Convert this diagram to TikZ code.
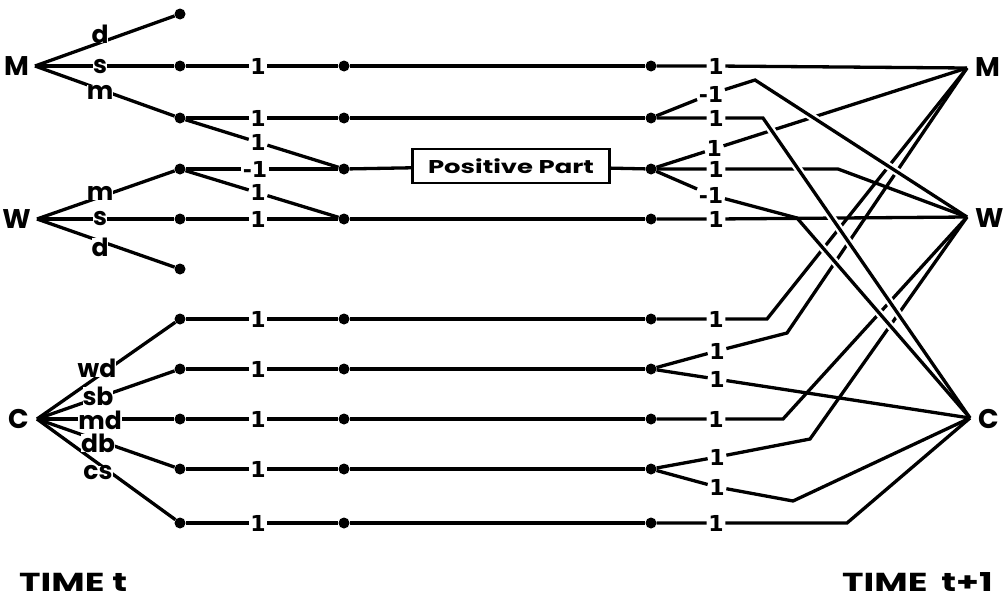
\documentclass[tikz,border=0pt]{standalone}
\usepackage{fontspec}
\setmainfont{Poppins}
\newfontfamily\widefont[FakeStretch=1.4]{Poppins}
\newfontfamily\numfont{DejaVu Sans}
\usetikzlibrary{calc}
\begin{document}
\begin{tikzpicture}[x=1pt,y=-1pt,
  ln/.style={line width=3.3pt},
  cutter/.style={draw=white,line width=8pt},
  dot/.style={circle,fill,inner sep=0pt,minimum size=11pt},
  lab/.style={font=\bfseries\fontsize{25}{25}\selectfont,inner sep=0pt,fill=white},
  big/.style={font=\bfseries\fontsize{27}{27}\selectfont,inner sep=0pt},
  one/.style={font=\numfont\bfseries\fontsize{22}{22}\selectfont,inner sep=1.5pt},
  boxed/.style={draw,line width=2.4pt,font=\widefont\bfseries\fontsize{18.5}{18.5}\selectfont,minimum width=197pt,minimum height=34pt,inner sep=0pt},
  timel/.style={font=\widefont\bfseries\fontsize{26}{26}\selectfont,inner sep=0pt}]
\useasboundingbox (0,0) rectangle (1003,605);

% ---- left source letters
\node[big,anchor=east] (ML) at (29,66) {M};
\node[big,anchor=east] (WL) at (31,219) {W};
\node[big,anchor=east] (CL) at (29,419) {C};
\coordinate (Mb) at (35,66);
\coordinate (Wb) at (37,219);
\coordinate (Cb) at (37,419);

% ---- dots
\node[dot] (a0) at (180,14) {};
\node[dot] (aw) at (180,269) {};
\foreach \y/\n in {66/1,118/2,169/3,219/4,319/5,369/6,419/7,469/8,523/9}{
  \node[dot] (a\n) at (180,\y) {};
  \node[dot] (c\n) at (344,\y) {};
  \node[dot] (d\n) at (651,\y) {};
}

% ---- left fans
\draw[ln] (Mb) -- (a0);
\draw[ln] (Mb) -- (a1);
\draw[ln] (Mb) -- (a2);
\draw[ln] (Wb) -- (a3);
\draw[ln] (Wb) -- (a4);
\draw[ln] (Wb) -- (aw);
\draw[ln] (Cb) -- (a5);
\draw[ln] (Cb) -- (a6);
\draw[ln] (Cb) -- (a7);
\draw[ln] (Cb) -- (a8);
\draw[ln] (Cb) -- (a9);

\node[lab] (Md) at (100,34) {d};
\node[lab] (Ms) at (100,67) {s};
\node[lab] (Mm) at (100,92) {m};
\node[lab] (Wm) at (100,193) {m};
\node[lab] (Ws) at (100,219) {s};
\node[lab] (Wd) at (100,247) {d};
\node[lab] (Cwd) at (97,368) {wd};
\node[lab] (Csb) at (98,396) {sb};
\node[lab] (Cmd) at (100,420) {md};
\node[lab] (Cdb) at (98,443) {db};
\node[lab] (Ccs) at (98,473) {cs};

% ---- second column labels
\foreach \y/\n in {66/1,118/2,219/4,319/5,369/6,419/7,469/8,523/9}{
  \node[one] (b\n) at (258,\y) {1};
  \draw[ln] (a\n) -- (b\n) -- (c\n);
}
\node[one] (b3) at (255,169) {-1};
\draw[ln] (a3) -- (b3) -- (c3);
\node[one] (bx) at ($(a2)!0.476!(c3)$) {1};
\node[one] (by) at ($(a3)!0.476!(c4)$) {1};
\draw[ln] (a2) -- (bx) -- (c3);
\draw[ln] (a3) -- (by) -- (c4);

% ---- middle
\node[boxed] (pp) at (511,166) {Positive Part};
\foreach \n in {1,2,4,5,6,7,8,9}{ \draw[ln] (c\n) -- (d\n); }
\draw[ln] (c3) -- (pp) -- (d3);

% ---- right target letters
\coordinate (Mr) at (967,68);
\coordinate (Wr) at (967,217);
\coordinate (Cr) at (970,418);
\node[big,anchor=west] (MR) at (975,67) {M};
\node[big,anchor=west] (WR) at (975,218) {W};
\node[big,anchor=west] (CR) at (978,419) {C};

% ---- right labels and bends
\node[one] (e1) at (716,66) {1};
\node[one] (e2u) at (711,94) {-1};
\node[one] (e2) at (716,118) {1};
\node[one] (e3u) at ($(d3)!0.2!(Mr)$) {1};
\node[one] (e3) at (716,169) {1};
\node[one] (e3d) at (711,195) {-1};
\node[one] (e4) at (716,219) {1};
\node[one] (e5) at (716,319) {1};
\node[one] (e6u) at (717,351) {1};
\node[one] (e6d) at ($(d6)!0.207!(Cr)$) {1};
\node[one] (e7) at (716,419) {1};
\node[one] (e8u) at (717,457) {1};
\node[one] (e8d) at (717,487) {1};
\node[one] (e9) at (716,523) {1};
\coordinate (k2u) at (755,80);
\coordinate (k2) at (763,118);
\coordinate (k3) at (838,169);
\coordinate (k3d) at (797,218);
\coordinate (k5) at (767,319);
\coordinate (k6u) at (787,333);
\coordinate (k7) at (783,419);
\coordinate (k8u) at (810,439);
\coordinate (k8d) at (793,501);
\coordinate (k9) at (847,523);

% lines that get crossed (drawn first)
\draw[ln] (d1) -- (e1) -- (Mr);
\draw[ln] (d3) -- (e3u) -- (Mr);
\draw[ln] (d3) -- (e3) -- (k3) -- (Wr);
\draw[ln] (d4) -- (e4) -- (Wr);
\draw[ln] (d5) -- (e5) -- (k5) -- (Mr);
\draw[ln] (d6) -- (e6u) -- (k6u) -- (Mr);
\draw[ln] (d7) -- (e7) -- (k7) -- (Wr);
\draw[ln] (d8) -- (e8u) -- (k8u) -- (Wr);
\draw[ln] (d6) -- (e6d) -- (Cr);
\draw[ln] (d8) -- (e8d) -- (k8d) -- (Cr);
\draw[ln] (d9) -- (e9) -- (k9) -- (Cr);

% lines drawn over the others, with a white gap
\draw[cutter,shorten <=20pt,shorten >=40pt] (k2u) -- (Wr);
\draw[ln] (d2) -- (e2u) -- (k2u) -- (Wr);
\draw[cutter,shorten <=8pt,shorten >=80pt] (k2) -- (Cr);
\draw[cutter,shorten <=15pt,shorten >=80pt] (k3d) -- (Cr);
\draw[ln] (d2) -- (e2) -- (k2) -- (Cr);
\draw[ln] (d3) -- (e3d) -- (k3d) -- (Cr);

% ---- time captions
\node[timel,anchor=west] (tl) at (19,582) {TIME t};
\node[timel,anchor=east] (tr) at (993,582) {TIME\hspace{14pt}t+1};
\end{tikzpicture}
\end{document}
